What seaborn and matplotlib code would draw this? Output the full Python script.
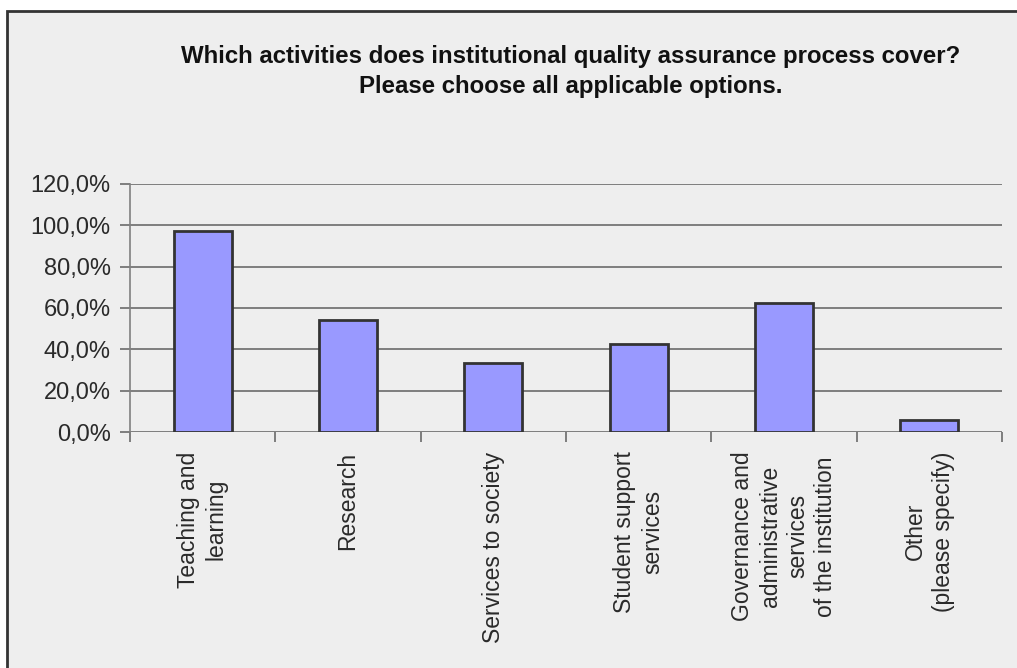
import matplotlib
matplotlib.use("Agg")
import matplotlib.pyplot as plt
import matplotlib.patches as mpatches
from matplotlib.ticker import FuncFormatter, FixedLocator
import seaborn as sns
import pandas as pd

categories = [
    "Teaching and\nlearning",
    "Research",
    "Services to society",
    "Student support\nservices",
    "Governance and\nadministrative\nservices\nof the institution",
    "Other\n(please specify)",
]
shares = [97.3, 54.3, 33.5, 42.4, 62.6, 5.6]
title_lines = [
    "Which activities does institutional quality assurance process cover?",
    "Please choose all applicable options.",
]

sns.set_theme(style="white")
plt.rcParams["font.family"] = ["Liberation Sans", "DejaVu Sans"]

df = pd.DataFrame({"activity": categories, "share": shares})

fig = plt.figure(figsize=(10.17, 6.68), dpi=100)
fig.patch.set_facecolor("white")
# grey panel with a dark frame, like the exported office chart
frame = mpatches.Rectangle((7 / 1017, -0.01), 1.0, 1 - 11 / 668 + 0.01,
                           transform=fig.transFigure, facecolor="#eeeeee",
                           edgecolor="#333333", linewidth=2, zorder=-10)
fig.patches.append(frame)

ax = fig.add_axes([130 / 1017, 1 - 432 / 668, 872 / 1017, 248 / 668])
ax.set_facecolor("#eeeeee")

sns.barplot(data=df, x="activity", y="share", ax=ax, color="#9999ff",
            saturation=1, width=0.4, edgecolor="#333333", linewidth=2, zorder=3)

ax.set_ylim(0, 120)
ax.set_xlim(-0.5, len(categories) - 0.5)
ax.set_yticks(range(0, 121, 20))
ax.yaxis.set_major_formatter(FuncFormatter(lambda v, p: f"{v:.1f}%".replace(".", ",")))
ax.grid(axis="y", color="#6a6a6a", linewidth=1.2, zorder=1)
ax.set_axisbelow(True)

for side in ["top", "right", "bottom"]:
    ax.spines[side].set_visible(False)
ax.spines["left"].set_color("#808080")
ax.spines["left"].set_linewidth(1.2)

ax.tick_params(axis="y", length=7, width=1.2, color="#6a6a6a", labelsize=17,
               labelcolor="#2a2a2a", pad=7, left=True)
ax.set_xticks(range(len(categories)))
ax.set_xticklabels(categories, rotation=90, fontsize=16.5, color="#2a2a2a",
                   linespacing=1.25, ha="center", va="top")
ax.tick_params(axis="x", length=0, pad=14)
ax.xaxis.set_minor_locator(FixedLocator([i - 0.5 for i in range(len(categories) + 1)]))
ax.tick_params(axis="x", which="minor", length=7, width=1.2, color="#6a6a6a", bottom=True)
ax.set_xlabel("")
ax.set_ylabel("")

fig.text(571 / 1017, 1 - 57 / 668, title_lines[0], ha="center", va="center",
         fontsize=17.3, fontweight="bold", color="#111111")
fig.text(571 / 1017, 1 - 87 / 668, title_lines[1], ha="center", va="center",
         fontsize=17.3, fontweight="bold", color="#111111")

fig.savefig("out.png", dpi=100, facecolor=fig.get_facecolor())
